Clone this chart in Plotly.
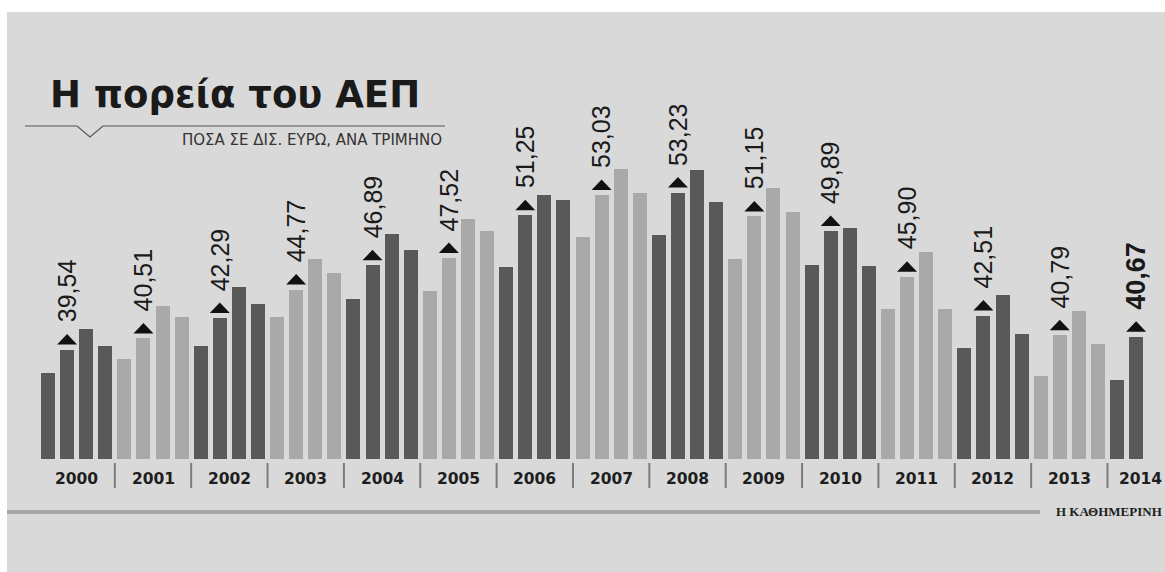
import plotly.graph_objects as go

# ---------------- data ----------------
years = list(range(2000, 2015))
quarters_per_year = 4
gdp = [
    37.53, 39.54, 41.37, 39.89,   # 2000
    38.72, 40.51, 43.34, 42.38,   # 2001
    39.83, 42.29, 45.00, 43.52,   # 2002
    42.38, 44.77, 47.44, 46.19,   # 2003
    43.93, 46.89, 49.62, 48.26,   # 2004
    44.62, 47.52, 50.96, 49.88,   # 2005
    46.78, 51.25, 53.06, 52.62,   # 2006
    49.36, 53.03, 55.26, 53.20,   # 2007
    49.53, 53.23, 55.20, 52.45,   # 2008
    47.48, 51.15, 53.67, 51.54,   # 2009
    46.92, 49.89, 50.14, 46.80,   # 2010
    43.05, 45.90, 48.02, 43.05,   # 2011
    39.68, 42.51, 44.30, 40.94,   # 2012
    37.27, 40.79, 42.91, 40.00,   # 2013
    36.86, 40.67,                 # 2014
]
title_text = "Η πορεία του ΑΕΠ"
subtitle_text = "ΠΟΣΑ ΣΕ ΔΙΣ. ΕΥΡΩ, ΑΝΑ ΤΡΙΜΗΝΟ"
source_text = "Η ΚΑΘΗΜΕΡΙΝΗ"
axis_min = 30

# ---------------- layout geometry ----------------
W, H = 1165, 572
BAR_PITCH = 19.09      # px per bar slot
FIRST_BAR_PX = 48      # px centre of first bar
PX_PER_UNIT = 11.468   # px per billion
BASE_PX = 459          # px of the bar baseline

BG = "#d9d9d9"
DARK = "#595959"
LIGHT = "#a9a9a9"


def px_x(p):
    return p / W


def px_y(p):
    return 1 - p / H


def data_y(p):
    return axis_min + (BASE_PX - p) / PX_PER_UNIT


x_range = [-FIRST_BAR_PX / BAR_PITCH, (W - FIRST_BAR_PX) / BAR_PITCH]
y_range = [data_y(H), data_y(0)]

idx = list(range(len(gdp)))
bar_year = [years[i // quarters_per_year] for i in idx]
colors = [DARK if (y - years[0]) % 2 == 0 else LIGHT for y in bar_year]

fig = go.Figure()
fig.add_trace(go.Bar(
    x=idx, y=[v - axis_min for v in gdp], base=axis_min,
    width=14 / BAR_PITCH, marker=dict(color=colors, line=dict(width=0)),
    hoverinfo="skip", showlegend=False,
))

# triangles above Q2 bars
q2_idx = [i for i in idx if i % quarters_per_year == 1]
half_w = 10 / BAR_PITCH
tx, ty = [], []
for i in q2_idx:
    v = gdp[i]
    tx += [i - half_w, i + half_w, i, i - half_w, None]
    ty += [v + 5 / PX_PER_UNIT, v + 5 / PX_PER_UNIT, v + 15.5 / PX_PER_UNIT,
           v + 5 / PX_PER_UNIT, None]
fig.add_trace(go.Scatter(
    x=tx, y=ty, mode="lines", fill="toself", fillcolor="#111111",
    line=dict(width=0, color="#111111"), hoverinfo="skip", showlegend=False,
))

annotations = []
for i in q2_idx:
    last = i == q2_idx[-1]
    lbl = f"{gdp[i]:.2f}".replace(".", ",")
    annotations.append(dict(
        x=i, y=gdp[i], xref="x", yref="y", text=lbl, showarrow=False,
        textangle=-90, xanchor="center", yanchor="bottom", yshift=25,
        font=dict(family="Liberation Sans Narrow, Liberation Sans, sans-serif",
                  size=27 if last else 25, color="#1a1a1a",
                  weight="bold" if last else "normal"),
    ))

# year labels and separators
shapes = []
for k, yr in enumerate(years):
    is_last = k == len(years) - 1
    annotations.append(dict(
        x=(W - 1) / W if is_last else k * quarters_per_year + 1.5,
        y=data_y(478.5), xref="paper" if is_last else "x", yref="y",
        text=str(yr), showarrow=False,
        xanchor="right" if is_last else "center", yanchor="middle",
        font=dict(family="DejaVu Sans", size=15.5, color="#1e1e1e", weight="bold"),
    ))
    if k > 0:
        xs = k * quarters_per_year - 0.5
        shapes.append(dict(type="line", xref="x", yref="y", x0=xs, x1=xs,
                           y0=data_y(463), y1=data_y(488),
                           line=dict(color="#7c7c7c", width=2)))

# title, subtitle, decorative line with notch
annotations.append(dict(
    x=px_x(48), y=px_y(94), xref="paper", yref="paper", text=title_text,
    showarrow=False, xanchor="left", yanchor="middle",
    font=dict(family="DejaVu Sans", size=37, color="#1a1a1a", weight="bold"),
))
annotations.append(dict(
    x=px_x(444), y=px_y(140), xref="paper", yref="paper", text=subtitle_text,
    showarrow=False, xanchor="right", yanchor="middle",
    font=dict(family="DejaVu Sans", size=15, color="#333333"),
))
pts = [(25, 126), (77, 126), (90, 137), (103, 126), (445, 126)]
path = "M " + " L ".join(f"{px_x(a):.5f},{px_y(b):.5f}" for a, b in pts)
shapes.append(dict(type="path", xref="paper", yref="paper", path=path,
                   line=dict(color="#555555", width=1.2)))

# bottom rule and source
shapes.append(dict(type="line", xref="paper", yref="paper",
                   x0=px_x(7), x1=px_x(1040), y0=px_y(512), y1=px_y(512),
                   line=dict(color="#a6a6a6", width=4)))
annotations.append(dict(
    x=px_x(1164), y=px_y(511), xref="paper", yref="paper", text=source_text,
    showarrow=False, xanchor="right", yanchor="middle",
    font=dict(family="Liberation Serif", size=13, color="#1e1e1e", weight="bold"),
))

# white image border (left and top)
shapes.append(dict(type="rect", xref="paper", yref="paper", x0=0, x1=px_x(7),
                   y0=0, y1=1, fillcolor="white", line=dict(width=0), layer="above"))
shapes.append(dict(type="rect", xref="paper", yref="paper", x0=0, x1=1,
                   y0=px_y(12), y1=1, fillcolor="white", line=dict(width=0), layer="above"))

fig.update_layout(
    width=W, height=H, margin=dict(l=0, r=0, t=0, b=0),
    paper_bgcolor=BG, plot_bgcolor=BG, showlegend=False,
    xaxis=dict(range=x_range, visible=False, fixedrange=True),
    yaxis=dict(range=y_range, visible=False, fixedrange=True),
    annotations=annotations, shapes=shapes, bargap=0,
)

fig.write_html(
    "out.html",
    config={"displayModeBar": False},
    post_script="document.body.style.margin='0';document.body.style.overflow='hidden';",
)
